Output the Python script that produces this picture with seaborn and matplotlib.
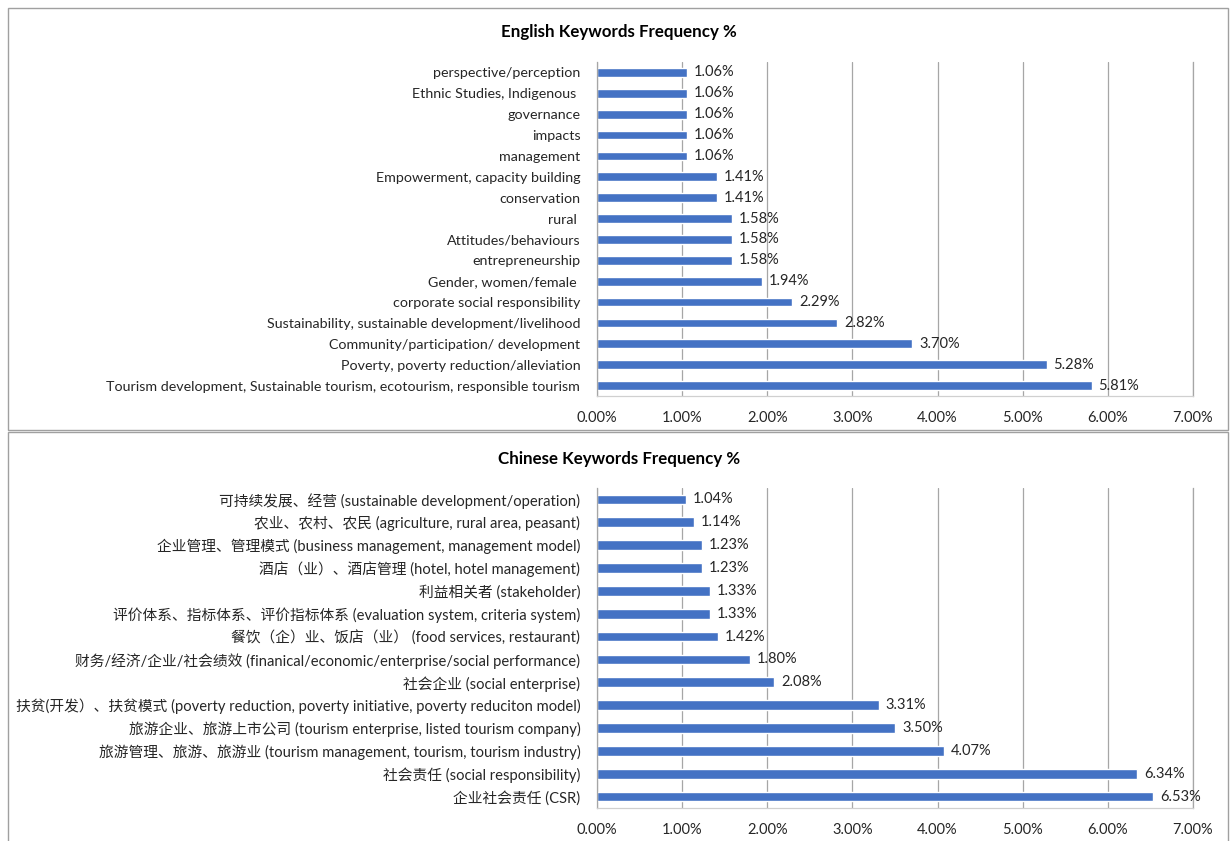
import matplotlib
matplotlib.use("Agg")
import matplotlib.pyplot as plt
import seaborn as sns
import pandas as pd
from matplotlib.patches import Rectangle
from matplotlib.ticker import FuncFormatter

en_labels = [
    "perspective/perception",
    "Ethnic Studies, Indigenous ",
    "governance",
    "impacts",
    "management",
    "Empowerment, capacity building",
    "conservation",
    "rural ",
    "Attitudes/behaviours",
    "entrepreneurship",
    "Gender, women/female ",
    "corporate social responsibility",
    "Sustainability, sustainable development/livelihood",
    "Community/participation/ development",
    "Poverty, poverty reduction/alleviation",
    "Tourism development, Sustainable tourism, ecotourism, responsible tourism",
]
en_values = [1.06, 1.06, 1.06, 1.06, 1.06, 1.41, 1.41, 1.58, 1.58, 1.58, 1.94, 2.29, 2.82, 3.70, 5.28, 5.81]

cn_labels = [
    "可持续发展、经营 (sustainable development/operation)",
    "农业、农村、农民 (agriculture, rural area, peasant)",
    "企业管理、管理模式 (business management, management model)",
    "酒店（业）、酒店管理 (hotel, hotel management)",
    "利益相关者 (stakeholder)",
    "评价体系、指标体系、评价指标体系 (evaluation system, criteria system)",
    "餐饮（企）业、饭店（业） (food services, restaurant)",
    "财务/经济/企业/社会绩效 (finanical/economic/enterprise/social performance)",
    "社会企业 (social enterprise)",
    "扶贫(开发）、扶贫模式 (poverty reduction, poverty initiative, poverty reduciton model)",
    "旅游企业、旅游上市公司 (tourism enterprise, listed tourism company)",
    "旅游管理、旅游、旅游业 (tourism management, tourism, tourism industry)",
    "社会责任 (social responsibility)",
    "企业社会责任 (CSR)",
]
cn_values = [1.04, 1.14, 1.23, 1.23, 1.33, 1.33, 1.42, 1.80, 2.08, 3.31, 3.50, 4.07, 6.34, 6.53]

x_ticks = [0, 1, 2, 3, 4, 5, 6, 7]

sns.set_theme(style="white")
plt.rcParams['font.family'] = ['Lato', 'Noto Sans CJK SC', 'DejaVu Sans']

BAR = "#4472C4"
GRID = "#A6A6A6"
TXT = "#262626"

fig = plt.figure(figsize=(12.3, 8.41), dpi=100)

# panel borders
fig.patches.append(Rectangle((8/1230, 1-430/841), 1220/1230, 422/841, transform=fig.transFigure,
                             fill=False, edgecolor="#A0A0A0", linewidth=1.0))
fig.patches.append(Rectangle((8/1230, -0.01), 1220/1230, 1-432/841+0.01, transform=fig.transFigure,
                             fill=False, edgecolor="#A0A0A0", linewidth=1.0))

def draw(ax, labels, values, title, title_y, fs):
    df = pd.DataFrame({"label": labels, "value": values})
    sns.barplot(data=df, y="label", x="value", orient="h", color=BAR, width=0.42,
                saturation=1, ax=ax)
    ax.set_xlim(0, 7)
    ax.set_xticks(x_ticks)
    ax.xaxis.set_major_formatter(FuncFormatter(lambda v, p: f"{v:.2f}%"))
    ax.grid(axis="x", color=GRID, linewidth=0.9)
    ax.set_axisbelow(True)
    ax.spines["top"].set_visible(False)
    ax.spines["right"].set_color(GRID)
    ax.spines["bottom"].set_color("#D0D0D0")
    ax.spines["left"].set_color(GRID)
    for s in ax.spines.values():
        s.set_linewidth(0.9)
    ax.set_xlabel("")
    ax.set_ylabel("")
    ax.tick_params(axis="both", length=0, colors=TXT)
    ax.tick_params(axis="x", pad=11, labelsize=10.5)
    ax.tick_params(axis="y", pad=12, labelsize=fs)
    for c in ax.containers:
        ax.bar_label(c, labels=[f"{v:.2f}%" for v in c.datavalues], padding=5,
                     fontsize=10.5, color=TXT)
    fig.text(0.503, title_y, title, ha="center", va="center", fontsize=12.2,
             fontweight="bold", color="black")

ax1 = fig.add_axes([597/1230, 1-396/841, 596/1230, 334/841])
draw(ax1, en_labels, en_values, "English Keywords Frequency %", 1-32/841, 10.3)

ax2 = fig.add_axes([597/1230, 1-808/841, 596/1230, 320/841])
draw(ax2, cn_labels, cn_values, "Chinese Keywords Frequency %", 1-459/841, 10.6)

fig.savefig("out.png", dpi=100)
